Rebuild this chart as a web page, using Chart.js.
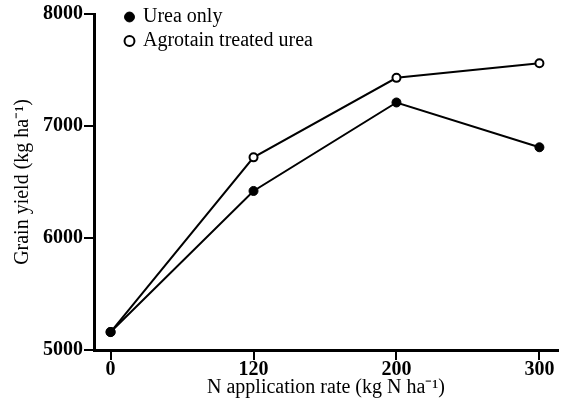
<!DOCTYPE html>
<html>
<head>
<meta charset="utf-8">
<script src="https://cdn.jsdelivr.net/npm/chart.js@4/dist/chart.umd.min.js"></script>
<style>
  html, body { margin: 0; padding: 0; background: #fff; }
  #wrap { width: 564px; height: 412px; }
</style>
</head>
<body>
<div id="wrap"><canvas id="c"></canvas></div>
<script>
// N application rates (categories, evenly spaced on the axis)
const rates = ['0', '120', '200', '300'];
// Grain yield, kg/ha
const ureaOnly = [5160, 6420, 7210, 6810];
const agrotain = [5160, 6720, 7430, 7560];
const yTicks = [5000, 6000, 7000, 8000];

const FONT = "'Liberation Serif', 'Times New Roman', serif";

const pts = arr => arr.map((y, i) => ({ x: i, y }));

// legend sits inside the plot, a bit in from the y axis
const legendSpot = {
  id: 'legendSpot',
  afterLayout(chart) {
    const lg = chart.legend;
    if (!lg) return;
    lg.left = chart.chartArea.left + 28;
    lg.top = 3;
  }
};

const axisGrid = { display: true, drawOnChartArea: false, drawTicks: true, color: '#000', tickColor: '#000', lineWidth: 2, tickLength: 10, tickWidth: 2 };

new Chart(document.getElementById('c'), {
  type: 'line',
  data: {
    datasets: [{
      label: 'Urea only',
      data: pts(ureaOnly),
      borderColor: '#000',
      backgroundColor: '#000',
      pointBackgroundColor: '#000',
      borderWidth: 2,
      pointRadius: 4.5,
      pointBorderWidth: 1,
      tension: 0
    }, {
      label: 'Agrotain treated urea',
      data: pts(agrotain),
      borderColor: '#000',
      backgroundColor: '#fff',
      pointBackgroundColor: '#fff',
      borderWidth: 2,
      pointRadius: 4,
      pointBorderWidth: 2,
      tension: 0
    }]
  },
  plugins: [legendSpot],
  options: {
    responsive: true, maintainAspectRatio: false,
    animation: false,
    layout: { padding: { top: 14, right: 2, left: 0, bottom: 0 } },
    scales: {
      x: {
        type: 'linear',
        min: -0.116, max: 3.13,
        afterBuildTicks: s => { s.ticks = rates.map((_, i) => ({ value: i })); },
        afterFit: s => { s.height = 62; },
        ticks: {
          color: '#000', font: { family: FONT, size: 20, weight: 'bold' },
          padding: -2,
          maxRotation: 0,
          callback: v => rates[v]
        },
        grid: axisGrid,
        border: { color: '#000', width: 3 },
        title: {
          display: true, text: 'N application rate (kg N ha\u207B\u00B9)',
          color: '#000', font: { family: FONT, size: 20 },
          padding: { top: 0, bottom: 12 }
        }
      },
      y: {
        min: 5000, max: 8000,
        afterBuildTicks: s => { s.ticks = yTicks.map(v => ({ value: v })); },
        afterFit: s => { s.width = 94; },
        ticks: {
          color: '#000', font: { family: FONT, size: 20, weight: 'bold' },
          padding: 1,
          callback: v => String(v)
        },
        grid: axisGrid,
        border: { color: '#000', width: 3 },
        title: {
          display: true, text: 'Grain yield (kg ha\u207B\u00B9)',
          color: '#000', font: { family: FONT, size: 20 },
          padding: { top: 11, bottom: 4 }
        }
      }
    },
    plugins: {
      legend: {
        position: 'chartArea',
        align: 'start',
        labels: {
          usePointStyle: true,
          pointStyle: 'circle',
          boxWidth: 7, boxHeight: 7,
          padding: 4,
          color: '#000',
          font: { family: FONT, size: 20, lineHeight: 1.0 }
        }
      },
      tooltip: { enabled: false }
    }
  }
});
</script>
</body>
</html>
